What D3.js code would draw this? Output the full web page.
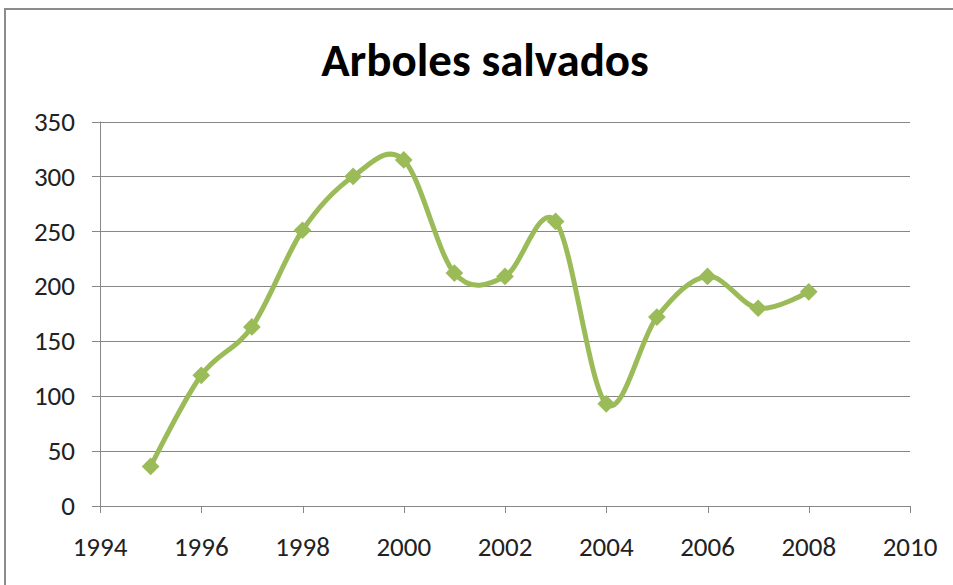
<!DOCTYPE html>
<html>
<head>
<meta charset="utf-8">
<script src="https://cdn.jsdelivr.net/npm/d3@7"></script>
<style>
  body { margin: 0; background: #fff; }
  svg { display: block; }
</style>
</head>
<body>
<svg id="chart" width="953" height="585"></svg>
<script>
// Data
const years = [1995, 1996, 1997, 1998, 1999, 2000, 2001, 2002, 2003, 2004, 2005, 2006, 2007, 2008];
const saved = [36, 119, 163, 251, 300, 315, 212, 209, 259, 93, 172, 209, 180, 195];
const xTicks = [1994, 1996, 1998, 2000, 2002, 2004, 2006, 2008, 2010];
const yTicks = [0, 50, 100, 150, 200, 250, 300, 350];
const title = "Arboles salvados";

const svg = d3.select("#chart");
const font = "Carlito, Lato, 'Open Sans', sans-serif";

// outer chart frame
svg.append("rect")
  .attr("x", 5).attr("y", 9)
  .attr("width", 1000).attr("height", 1000)
  .attr("fill", "#fff")
  .attr("stroke", "#8c8c8c")
  .attr("stroke-width", 2);

const x = d3.scaleLinear().domain([1994, 2010]).range([100, 910]);
const y = d3.scaleLinear().domain([0, 350]).range([506, 121.5]);

// horizontal gridlines
svg.append("g")
  .selectAll("line")
  .data(yTicks)
  .join("line")
  .attr("x1", 92).attr("x2", x(2010))
  .attr("y1", d => Math.round(y(d)) + 0.5)
  .attr("y2", d => Math.round(y(d)) + 0.5)
  .attr("stroke", "#878787")
  .attr("stroke-width", 1);

// y axis line
svg.append("line")
  .attr("x1", 100.5).attr("x2", 100.5)
  .attr("y1", y(350)).attr("y2", y(0))
  .attr("stroke", "#878787");

// x tick marks
svg.append("g")
  .selectAll("line")
  .data(xTicks)
  .join("line")
  .attr("x1", d => Math.round(x(d)) + 0.5)
  .attr("x2", d => Math.round(x(d)) + 0.5)
  .attr("y1", y(0)).attr("y2", y(0) + 7)
  .attr("stroke", "#878787");

// y labels
svg.append("g")
  .selectAll("text")
  .data(yTicks)
  .join("text")
  .attr("x", 75)
  .attr("y", d => y(d))
  .attr("dy", "0.34em")
  .attr("text-anchor", "end")
  .attr("font-family", font)
  .attr("font-size", 27)
  .attr("fill", "#222")
  .text(d => d);

// x labels
svg.append("g")
  .selectAll("text")
  .data(xTicks)
  .join("text")
  .attr("x", d => x(d))
  .attr("y", 556)
  .attr("text-anchor", "middle")
  .attr("font-family", font)
  .attr("font-size", 27)
  .attr("fill", "#222")
  .text(d => d);

// title
svg.append("text")
  .attr("x", 485)
  .attr("y", 76)
  .attr("text-anchor", "middle")
  .attr("font-family", font)
  .attr("font-weight", "bold")
  .attr("font-size", 47)
  .attr("fill", "#000")
  .text(title);

const pts = years.map((yr, i) => [x(yr), y(saved[i])]);

// smoothed series line
const line = d3.line().curve(d3.curveCardinal.tension(0));
svg.append("path")
  .attr("d", line(pts))
  .attr("fill", "none")
  .attr("stroke", "#9bbb59")
  .attr("stroke-width", 5)
  .attr("stroke-linejoin", "round");

// diamond markers
const diamond = d3.symbol().type(d3.symbolDiamond2).size(200);
svg.append("g")
  .selectAll("path")
  .data(pts)
  .join("path")
  .attr("transform", d => `translate(${d[0]},${d[1]})`)
  .attr("d", diamond)
  .attr("fill", "#9bbb59");
</script>
</body>
</html>
